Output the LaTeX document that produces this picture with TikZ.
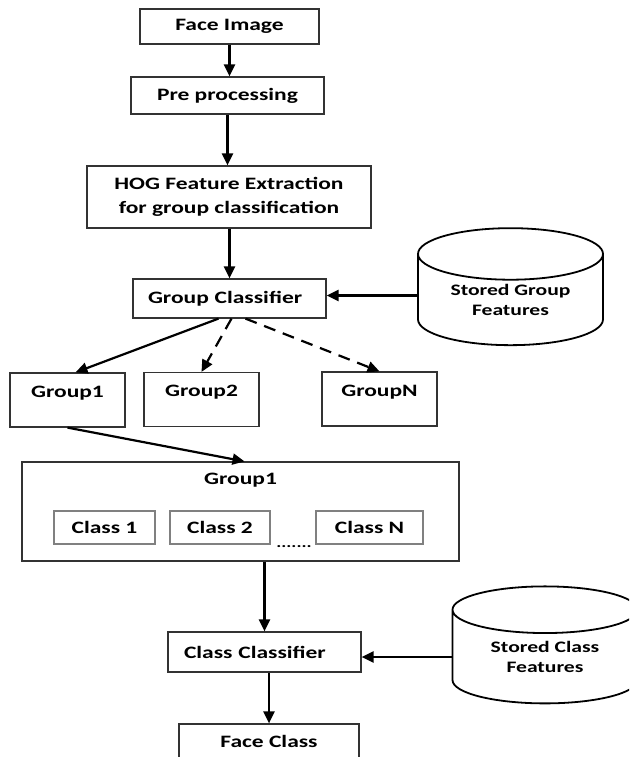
\documentclass[tikz,border=0pt]{standalone}
\usepackage{fontspec}
\setmainfont{Carlito}[FakeStretch=1.35]
\usepackage{tikz}
\usetikzlibrary{arrows.meta, shapes.geometric}

\begin{document}
\begin{tikzpicture} [x=1pt, y=-1pt,
	font=\fontsize{17.4}{23.5}\selectfont\bfseries,
	box/.style={draw=black!80, line width=1.2pt, inner sep=0pt},
	grpbox/.style={box, minimum width=115pt, text height=24pt, text depth=30pt},
	classbox/.style={draw=black!50, line width=1.3pt, inner sep=0pt, minimum height=33pt},
	store/.style={cylinder, shape border rotate=90, draw, line width=1.8pt, aspect=0.43,
		minimum width=185pt, minimum height=117pt, inner sep=0pt,
		font=\fontsize{16}{20.5}\selectfont\bfseries, align=center},
	arr/.style={line width=2.2pt, -{Triangle[length=12pt, width=11pt]}},
	dasharr/.style={arr, dash pattern=on 12pt off 8pt}]
	
	\useasboundingbox (0,0) rectangle (629,757);
	\clip (0,0) rectangle (629,757);
	
	% main chain
	\node[box, minimum width=179pt, minimum height=35pt] (face) at (229.5,26.5) {Face Image};
	\node[box, minimum width=193pt, minimum height=37pt] (pre) at (227.5,95.5) {Pre processing};
	\node[box, minimum width=284pt, minimum height=62pt, align=center] (hog) at (229,197)
		{HOG Feature Extraction\\for group classification};
	\node[box, minimum width=193pt, minimum height=39pt, text width=163pt, inner xsep=15pt, align=left] (gc) at (229.5,298.5) {Group Classifier};
	\node[store] (db1) at (510.5,300) {Stored Group\\Features};
	
	% groups
	\node[grpbox] (g1) at (67.5,400) {Group1};
	\node[grpbox] (g2) at (201.5,399.5) {Group2};
	\node[grpbox] (gN) at (379.5,399) {GroupN};
	
	% classes of the first group
	\node[box, minimum width=437pt, text height=22pt, text depth=77pt] (bg1) at (240.5,511.5) {Group1};
	\node[classbox, minimum width=101pt] (c1) at (104.5,527.5) {Class 1};
	\node[classbox, minimum width=100pt] (c2) at (220,527.5) {Class 2};
	\node[classbox, minimum width=107pt] (cN) at (369.5,527.5) {Class N};
	\node[font=\fontsize{14}{14}\selectfont\bfseries, inner sep=0pt, anchor=base] (dots) at (294,547) {.......};
	
	\node[box, minimum width=193pt, minimum height=40pt, text width=161pt, inner xsep=16pt, align=left] (cc) at (264.5,652) {Class Classifier};
	\node[store] (db2) at (545,657) {Stored Class\\Features};
	\node[box, minimum width=180pt, text height=23pt, text depth=27pt] (fc) at (269,749) {Face Class};
	
	% connectors
	\draw[arr] (face.south) -- (face.south |- pre.north);
	\draw[arr] (pre.south) -- (pre.south |- hog.north);
	\draw[arr] (hog.south -| gc.north) -- (gc.north);
	\draw[arr] ([yshift=3pt]db1.west |- gc.east) -- ([yshift=3pt]gc.east);
	\draw[arr] ([xshift=-11pt]gc.south) -- ([xshift=8pt]g1.north);
	\draw[dasharr] ([xshift=2pt]gc.south) -- (g2.north);
	\draw[dasharr] ([xshift=16pt]gc.south) -- (gN.north);
	\draw[arr] (g1.south) -- ([xshift=4pt]bg1.north);
	\draw[arr] (cc.north |- bg1.south) -- (cc.north);
	\draw[arr] ([yshift=-5pt]cc.east -| db2.west) -- ([yshift=-5pt]cc.east);
	\draw[arr] (fc.north |- cc.south) -- (fc.north);
	
\end{tikzpicture}
\end{document}
